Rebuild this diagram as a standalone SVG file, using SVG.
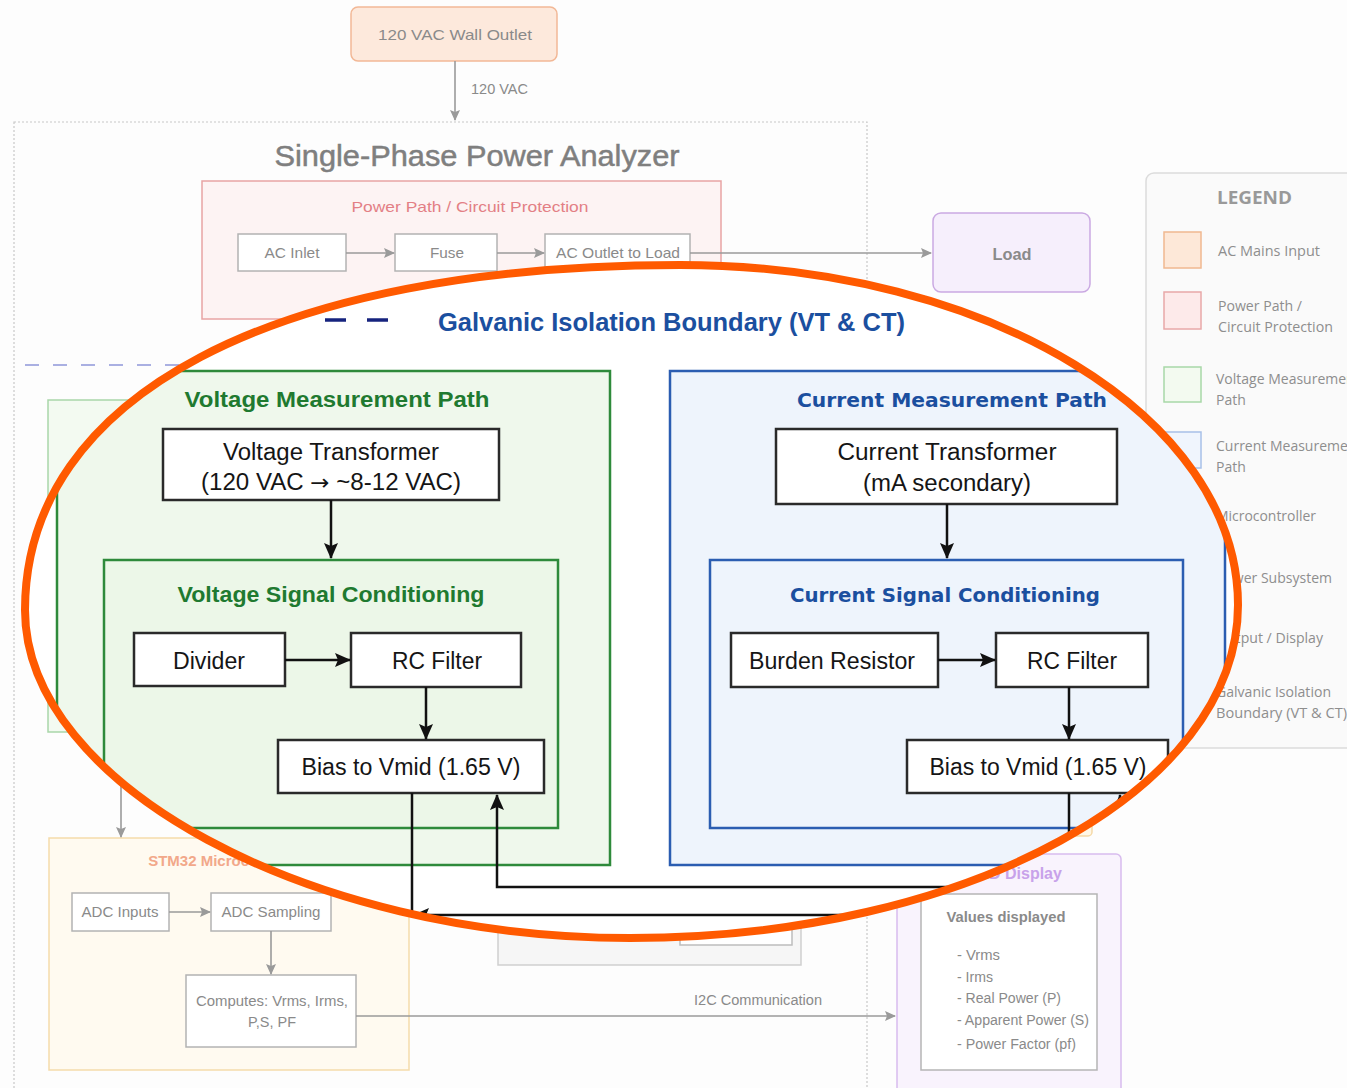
<svg xmlns="http://www.w3.org/2000/svg" width="1347" height="1088" viewBox="0 0 1347 1088">
<defs>
<style>
.bgt{font-family:"Liberation Sans",Arial,sans-serif;fill:#8a8a8a}
.lg{font-family:"Open Sans","DejaVu Sans",sans-serif;fill:#8e8e8e;font-size:14px}
.bgbox{fill:#ffffff;stroke:#b3b3b3;stroke-width:1.5}
.gl{stroke:#9a9a9a;stroke-width:1.6;fill:none}
.ov{font-family:"Liberation Sans",Arial,sans-serif;fill:#151515;font-size:23px;text-anchor:middle}
.ovbox{fill:#ffffff;stroke:#2a2a2a;stroke-width:2.5}
.gt{font-family:"Liberation Sans",Arial,sans-serif;fill:#1f7a30;font-size:22px;font-weight:bold;text-anchor:middle}
.bt{font-family:"DejaVu Sans",sans-serif;fill:#1b4f9f;font-size:20px;font-weight:bold;text-anchor:middle}
.bl{stroke:#111;stroke-width:2.5;fill:none}
</style>
<marker id="ag" markerWidth="11" markerHeight="10" refX="10" refY="5" orient="auto" markerUnits="userSpaceOnUse"><path d="M0,0 L11,5 L0,10 L2,5 Z" fill="#9a9a9a"/></marker>
<marker id="ab" markerWidth="16" markerHeight="14" refX="15" refY="7" orient="auto" markerUnits="userSpaceOnUse"><path d="M0,0 L16,7 L0,14 L3,7 Z" fill="#111"/></marker>
<path id="oval" d="M680,265 C988,265 1238,417 1238,605 C1238,790 966,938 630,938 C309,938 25,785 25,610 C25,396 274,265 680,265 Z"/>
<clipPath id="ec"><use href="#oval"/></clipPath>
</defs>

<rect x="0" y="0" width="1347" height="1088" fill="#fdfdfd"/>

<!-- ===== Background (faded) diagram ===== -->
<g id="outer-boundary">
<rect x="14" y="122" width="853" height="990" fill="none" stroke="#c8c8c8" stroke-width="1.2" stroke-dasharray="2,2"/>
<text class="bgt" x="477" y="166" font-size="29" text-anchor="middle" textLength="405" lengthAdjust="spacingAndGlyphs" style="fill:#7f7f7f;stroke:#7f7f7f;stroke-width:0.5">Single-Phase Power Analyzer</text>
</g>

<g id="wall-outlet">
<rect x="351" y="7" width="206" height="54" rx="7" fill="#fde9dc" stroke="#f2b896" stroke-width="1.5"/>
<text class="bgt" x="455" y="40" font-size="15" text-anchor="middle" textLength="154" lengthAdjust="spacingAndGlyphs">120 VAC Wall Outlet</text>
</g>

<g id="power-path">
<rect x="202" y="181" width="519" height="138" fill="#fdf3f3" stroke="#e8a4a4" stroke-width="1.5"/>
<text class="bgt" x="470" y="212" font-size="15" text-anchor="middle" textLength="237" lengthAdjust="spacingAndGlyphs" style="fill:#e37f85">Power Path / Circuit Protection</text>
</g>
<g id="ac-inlet">
<rect class="bgbox" x="238" y="234" width="108" height="37"/>
<text class="bgt" x="292" y="258" font-size="15" text-anchor="middle" textLength="55" lengthAdjust="spacingAndGlyphs">AC Inlet</text>
</g>
<g id="fuse">
<rect class="bgbox" x="395" y="234" width="102" height="37"/>
<text class="bgt" x="447" y="258" font-size="15" text-anchor="middle" textLength="34" lengthAdjust="spacingAndGlyphs">Fuse</text>
</g>
<g id="ac-outlet">
<rect class="bgbox" x="545" y="234" width="145" height="37"/>
<text class="bgt" x="618" y="258" font-size="15" text-anchor="middle" textLength="124" lengthAdjust="spacingAndGlyphs">AC Outlet to Load</text>
</g>

<g id="load">
<rect x="933" y="213" width="157" height="79" rx="8" fill="#f6effc" stroke="#caa9e2" stroke-width="1.5"/>
<text class="bgt" x="1012" y="260" font-size="16" font-weight="bold" text-anchor="middle" textLength="39" lengthAdjust="spacingAndGlyphs">Load</text>
</g>

<g id="legend">
<rect x="1146" y="173" width="230" height="575" rx="8" fill="#fafafa" stroke="#dcdcdc" stroke-width="1.5"/>
<text x="1217" y="204" font-family="'Open Sans','DejaVu Sans',sans-serif" font-size="17" font-weight="bold" fill="#999" textLength="75" lengthAdjust="spacingAndGlyphs">LEGEND</text>
<rect x="1164" y="232" width="37" height="36" fill="#fde8d8" stroke="#f0b890" stroke-width="1.5"/>
<text class="lg" x="1218" y="256" textLength="102" lengthAdjust="spacingAndGlyphs">AC Mains Input</text>
<rect x="1164" y="292" width="37" height="37" fill="#fdeaea" stroke="#e8a8a8" stroke-width="1.5"/>
<text class="lg" x="1218" y="311" textLength="84" lengthAdjust="spacingAndGlyphs">Power Path /</text>
<text class="lg" x="1218" y="332" textLength="115" lengthAdjust="spacingAndGlyphs">Circuit Protection</text>
<rect x="1164" y="367" width="37" height="35" fill="#f3faf0" stroke="#a8d8a8" stroke-width="1.5"/>
<text class="lg" x="1216" y="384">Voltage Measurement</text>
<text class="lg" x="1216" y="405">Path</text>
<rect x="1164" y="432" width="37" height="36" fill="#f0f5fd" stroke="#a8c0e8" stroke-width="1.5"/>
<text class="lg" x="1216" y="451">Current Measurement</text>
<text class="lg" x="1216" y="472">Path</text>
<text class="lg" x="1216" y="521" textLength="100" lengthAdjust="spacingAndGlyphs">Microcontroller</text>
<text class="lg" x="1216" y="583" textLength="116" lengthAdjust="spacingAndGlyphs">Power Subsystem</text>
<text class="lg" x="1216" y="643" textLength="107" lengthAdjust="spacingAndGlyphs">Output / Display</text>
<text class="lg" x="1216" y="697" textLength="115" lengthAdjust="spacingAndGlyphs">Galvanic Isolation</text>
<text class="lg" x="1216" y="718" textLength="131" lengthAdjust="spacingAndGlyphs">Boundary (VT &amp; CT)</text>
</g>

<g id="bg-voltage-path">
<rect x="48" y="400" width="400" height="332" fill="#f3faf1" stroke="#a9d6a9" stroke-width="1.5"/>
</g>

<g id="bg-isolation-line">
<line x1="25" y1="365" x2="300" y2="365" stroke="#aab0e2" stroke-width="2" stroke-dasharray="14,14"/>
</g>

<g id="bg-power-subsystem">
<rect x="880" y="700" width="212" height="136" rx="4" fill="#fff7e6" stroke="#f5d9a8" stroke-width="1.5"/>
</g>

<g id="bg-mid-box">
<rect x="498" y="820" width="303" height="145" fill="#f6f6f6" stroke="#cfcfcf" stroke-width="1.5"/>
<rect x="680" y="880" width="112" height="65" fill="#ffffff" stroke="#bdbdbd" stroke-width="1.5"/>
</g>

<g id="stm32">
<rect x="49" y="838" width="360" height="232" fill="#fffaf0" stroke="#f5dbab" stroke-width="1.5"/>
<text class="bgt" x="229" y="866" font-size="15" font-weight="bold" text-anchor="middle" style="fill:#f2a88a">STM32 Microcontroller</text>
</g>
<g id="adc-inputs">
<rect class="bgbox" x="72" y="893" width="97" height="38"/>
<text class="bgt" x="120" y="917" font-size="15" text-anchor="middle" textLength="77" lengthAdjust="spacingAndGlyphs">ADC Inputs</text>
</g>
<g id="adc-sampling">
<rect class="bgbox" x="211" y="893" width="120" height="38"/>
<text class="bgt" x="271" y="917" font-size="15" text-anchor="middle" textLength="99" lengthAdjust="spacingAndGlyphs">ADC Sampling</text>
</g>
<g id="computes">
<rect class="bgbox" x="186" y="975" width="170" height="72"/>
<text class="bgt" x="272" y="1006" font-size="15" text-anchor="middle" textLength="152" lengthAdjust="spacingAndGlyphs">Computes: Vrms, Irms,</text>
<text class="bgt" x="272" y="1027" font-size="15" text-anchor="middle" textLength="48" lengthAdjust="spacingAndGlyphs">P,S, PF</text>
</g>

<g id="display">
<rect x="897" y="854" width="224" height="250" rx="5" fill="#f9f3fd" stroke="#d8bcee" stroke-width="1.5"/>
<text class="bgt" x="1009" y="879" font-size="16" font-weight="bold" text-anchor="middle" style="fill:#c8a2ea">OLED Display</text>
<rect x="921" y="894" width="176" height="176" fill="#ffffff" stroke="#b5b5b5" stroke-width="1.5"/>
<text class="bgt" x="1006" y="922" font-size="15" font-weight="bold" text-anchor="middle" textLength="119" lengthAdjust="spacingAndGlyphs">Values displayed</text>
<text class="bgt" x="957" y="960" font-size="14" textLength="43" lengthAdjust="spacingAndGlyphs">- Vrms</text>
<text class="bgt" x="957" y="982" font-size="14" textLength="36" lengthAdjust="spacingAndGlyphs">- Irms</text>
<text class="bgt" x="957" y="1003" font-size="14" textLength="104" lengthAdjust="spacingAndGlyphs">- Real Power (P)</text>
<text class="bgt" x="957" y="1025" font-size="14" textLength="132" lengthAdjust="spacingAndGlyphs">- Apparent Power (S)</text>
<text class="bgt" x="957" y="1049" font-size="14" textLength="119" lengthAdjust="spacingAndGlyphs">- Power Factor (pf)</text>
</g>

<g id="bg-connectors">
<line class="gl" x1="455" y1="61" x2="455" y2="120" marker-end="url(#ag)"/>
<text class="bgt" x="471" y="94" font-size="14" textLength="57" lengthAdjust="spacingAndGlyphs">120 VAC</text>
<line class="gl" x1="346" y1="253" x2="394" y2="253" marker-end="url(#ag)"/>
<line class="gl" x1="497" y1="253" x2="544" y2="253" marker-end="url(#ag)"/>
<line class="gl" x1="690" y1="253" x2="931" y2="253" marker-end="url(#ag)"/>
<line class="gl" x1="121" y1="732" x2="121" y2="837" marker-end="url(#ag)"/>
<line class="gl" x1="169" y1="912" x2="210" y2="912" marker-end="url(#ag)"/>
<line class="gl" x1="271" y1="931" x2="271" y2="974" marker-end="url(#ag)"/>
<line class="gl" x1="356" y1="1016" x2="895" y2="1016" marker-end="url(#ag)"/>
<text class="bgt" x="694" y="1005" font-size="14" textLength="128" lengthAdjust="spacingAndGlyphs">I2C Communication</text>
</g>

<!-- ===== Zoomed overlay inside the oval ===== -->
<g clip-path="url(#ec)">
<rect x="0" y="0" width="1347" height="1088" fill="#ffffff"/>

<g id="galvanic-boundary">
<line x1="325" y1="320" x2="346" y2="320" stroke="#16237e" stroke-width="3.5"/>
<line x1="367" y1="320" x2="388" y2="320" stroke="#16237e" stroke-width="3.5"/>
<text x="438" y="331" font-family="'Liberation Sans',Arial,sans-serif" font-size="25" font-weight="bold" fill="#1b4f9f" textLength="467" lengthAdjust="spacingAndGlyphs">Galvanic Isolation Boundary (VT &amp; CT)</text>
</g>

<g id="voltage-path">
<rect x="57" y="371" width="553" height="494" fill="#eff8ec" stroke="#2e8a3b" stroke-width="2.5"/>
<text class="gt" x="337" y="407" textLength="305" lengthAdjust="spacingAndGlyphs">Voltage Measurement Path</text>
</g>
<g id="voltage-transformer">
<rect class="ovbox" x="163" y="429" width="336" height="71"/>
<text class="ov" x="331" y="460" textLength="216" lengthAdjust="spacingAndGlyphs">Voltage Transformer</text>
<text class="ov" x="331" y="490" textLength="260" lengthAdjust="spacingAndGlyphs">(120 VAC <tspan font-family="'DejaVu Sans',sans-serif" font-size="22">→</tspan> ~8-12 VAC)</text>
</g>
<g id="voltage-conditioning">
<rect x="104" y="560" width="454" height="268" fill="#ecf7e8" stroke="#2e8a3b" stroke-width="2.5"/>
<text class="gt" x="331" y="602" textLength="307" lengthAdjust="spacingAndGlyphs">Voltage Signal Conditioning</text>
</g>
<g id="divider">
<rect class="ovbox" x="134" y="633" width="151" height="53"/>
<text class="ov" x="209" y="669" textLength="72" lengthAdjust="spacingAndGlyphs">Divider</text>
</g>
<g id="v-rc-filter">
<rect class="ovbox" x="351" y="633" width="170" height="54"/>
<text class="ov" x="437" y="669" textLength="90" lengthAdjust="spacingAndGlyphs">RC Filter</text>
</g>
<g id="v-bias">
<rect class="ovbox" x="278" y="740" width="266" height="53"/>
<text class="ov" x="411" y="775" textLength="219" lengthAdjust="spacingAndGlyphs">Bias to Vmid (1.65 V)</text>
</g>

<g id="current-path">
<rect x="670" y="371" width="555" height="494" fill="#eef4fc" stroke="#2b5db1" stroke-width="2.5"/>
<text class="bt" x="952" y="407" textLength="310" lengthAdjust="spacingAndGlyphs">Current Measurement Path</text>
</g>
<g id="current-transformer">
<rect class="ovbox" x="776" y="429" width="341" height="75"/>
<text class="ov" x="947" y="460" textLength="219" lengthAdjust="spacingAndGlyphs">Current Transformer</text>
<text class="ov" x="947" y="491" textLength="168" lengthAdjust="spacingAndGlyphs">(mA secondary)</text>
</g>
<g id="current-conditioning">
<rect x="710" y="560" width="473" height="268" fill="#eef4fc" stroke="#2b5db1" stroke-width="2.5"/>
<text class="bt" x="945" y="602" textLength="310" lengthAdjust="spacingAndGlyphs">Current Signal Conditioning</text>
</g>
<g id="burden-resistor">
<rect class="ovbox" x="731" y="633" width="207" height="54"/>
<text class="ov" x="832" y="669" textLength="166" lengthAdjust="spacingAndGlyphs">Burden Resistor</text>
</g>
<g id="c-rc-filter">
<rect class="ovbox" x="996" y="633" width="152" height="54"/>
<text class="ov" x="1072" y="669" textLength="90" lengthAdjust="spacingAndGlyphs">RC Filter</text>
</g>
<g id="c-bias">
<rect class="ovbox" x="907" y="740" width="261" height="53"/>
<text class="ov" x="1038" y="775" textLength="217" lengthAdjust="spacingAndGlyphs">Bias to Vmid (1.65 V)</text>
</g>

<g id="overlay-connectors">
<line class="bl" x1="331" y1="500" x2="331" y2="558" marker-end="url(#ab)"/>
<line class="bl" x1="285" y1="660" x2="350" y2="660" marker-end="url(#ab)"/>
<line class="bl" x1="426" y1="687" x2="426" y2="739" marker-end="url(#ab)"/>
<line class="bl" x1="947" y1="504" x2="947" y2="558" marker-end="url(#ab)"/>
<line class="bl" x1="938" y1="660" x2="995" y2="660" marker-end="url(#ab)"/>
<line class="bl" x1="1069" y1="687" x2="1069" y2="739" marker-end="url(#ab)"/>
<line class="bl" x1="412" y1="793" x2="412" y2="1000"/>
<path class="bl" d="M1069,793 V915 H414" marker-end="url(#ab)"/>
<path class="bl" d="M1300,887 H497 V795" marker-end="url(#ab)"/>
<path class="bl" d="M1120,1000 V795" marker-end="url(#ab)"/>
</g>
</g>

<g id="highlight-oval">
<use href="#oval" fill="none" stroke="#ff5a00" stroke-width="8"/>
</g>
</svg>
